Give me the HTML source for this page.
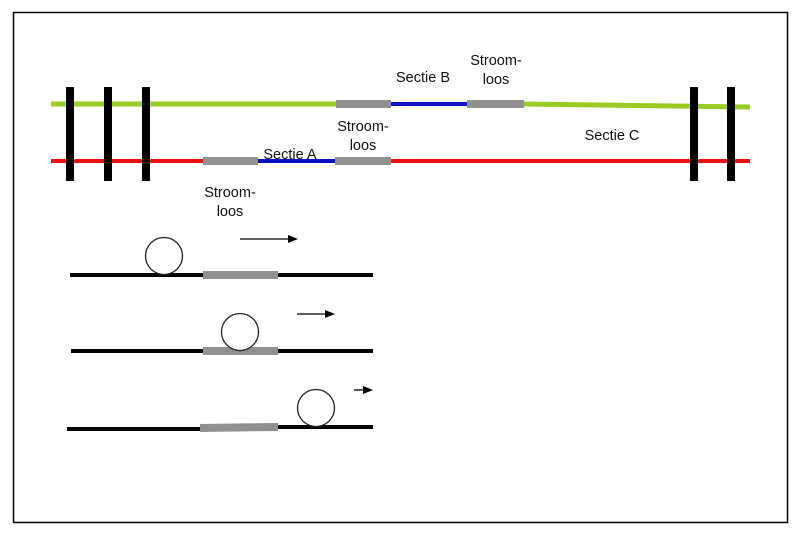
<!DOCTYPE html>
<html><head><meta charset="utf-8"><style>
body{margin:0;background:#fff}
svg text{font-family:"Liberation Sans",sans-serif;font-size:14.5px;fill:#111}
</style></head><body>
<svg width="800" height="534" xmlns="http://www.w3.org/2000/svg">
<rect x="0" y="0" width="800" height="534" fill="#fff"/>
<rect x="13.5" y="12.5" width="774" height="510" fill="none" stroke="#000" stroke-width="1.5"/>
<line x1="51" y1="104" x2="336" y2="104" stroke="#99cc22" stroke-width="5"/>
<line x1="524" y1="104" x2="750" y2="107" stroke="#99cc22" stroke-width="5"/>
<line x1="336" y1="104" x2="391" y2="104" stroke="#909090" stroke-width="8"/>
<line x1="391" y1="104" x2="467" y2="104" stroke="#0a10c0" stroke-width="4"/>
<line x1="467" y1="104" x2="524" y2="104" stroke="#909090" stroke-width="8"/>
<line x1="51" y1="161" x2="750" y2="161" stroke="#ee1111" stroke-width="4"/>
<line x1="203" y1="161" x2="258" y2="161" stroke="#909090" stroke-width="8"/>
<line x1="258" y1="161" x2="335" y2="161" stroke="#0a10c0" stroke-width="4"/>
<line x1="335" y1="161" x2="391" y2="161" stroke="#909090" stroke-width="8"/>
<g fill="#000">
<rect x="66" y="87" width="8" height="94"/>
<rect x="104" y="87" width="8" height="94"/>
<rect x="142" y="87" width="8" height="94"/>
<rect x="690" y="87" width="8" height="94"/>
<rect x="727" y="87" width="8" height="94"/>
</g>
<text x="423" y="82" text-anchor="middle">Sectie B</text>
<text x="496" y="65" text-anchor="middle">Stroom-</text>
<text x="496" y="84" text-anchor="middle">loos</text>
<text x="363" y="131" text-anchor="middle">Stroom-</text>
<text x="363" y="150" text-anchor="middle">loos</text>
<text x="290" y="159" text-anchor="middle">Sectie A</text>
<text x="230" y="197" text-anchor="middle">Stroom-</text>
<text x="230" y="216" text-anchor="middle">loos</text>
<text x="612" y="140" text-anchor="middle">Sectie C</text>
<line x1="70" y1="275" x2="373" y2="275" stroke="#000" stroke-width="4"/>
<line x1="203" y1="275" x2="278" y2="275" stroke="#909090" stroke-width="8"/>
<circle cx="164" cy="256" r="18.5" fill="#fff" stroke="#222" stroke-width="1.3"/>
<line x1="240" y1="239" x2="290" y2="239" stroke="#000" stroke-width="1.3"/>
<polygon points="288,235 298,239 288,243" fill="#000"/>
<line x1="71" y1="351" x2="373" y2="351" stroke="#000" stroke-width="4"/>
<line x1="203" y1="351" x2="278" y2="351" stroke="#909090" stroke-width="8"/>
<circle cx="240" cy="332" r="18.5" fill="#fff" stroke="#222" stroke-width="1.3"/>
<line x1="297" y1="314" x2="327" y2="314" stroke="#000" stroke-width="1.3"/>
<polygon points="325,310 335,314 325,318" fill="#000"/>
<line x1="67" y1="429" x2="200" y2="429" stroke="#000" stroke-width="4"/>
<line x1="278" y1="427" x2="373" y2="427" stroke="#000" stroke-width="4"/>
<line x1="200" y1="428" x2="278" y2="427" stroke="#909090" stroke-width="8"/>
<circle cx="316" cy="408" r="18.5" fill="#fff" stroke="#222" stroke-width="1.3"/>
<line x1="354" y1="390" x2="365" y2="390" stroke="#000" stroke-width="1.3"/>
<polygon points="363,386 373,390 363,394" fill="#000"/>
</svg>
</body></html>
